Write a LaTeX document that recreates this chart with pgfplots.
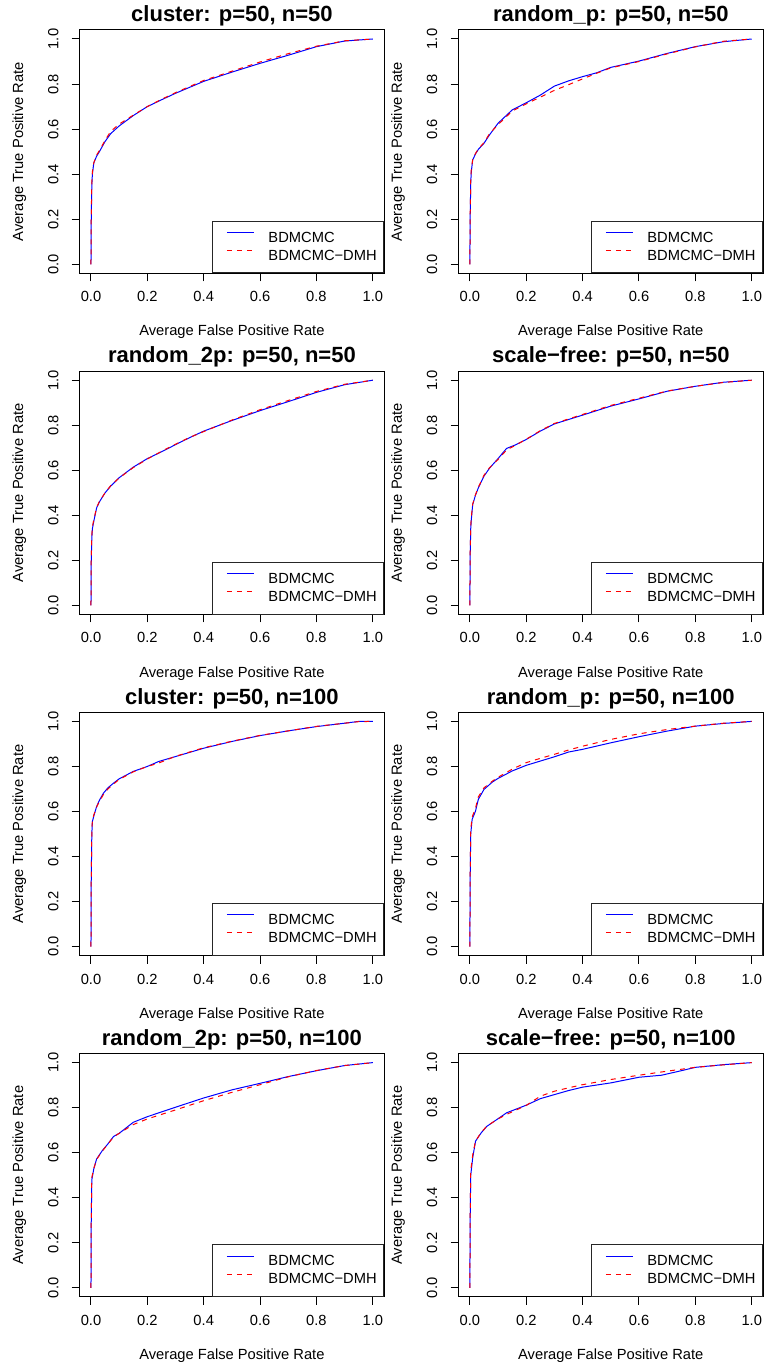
\documentclass[border=0pt]{standalone}
\usepackage{pgfplots}
\pgfplotsset{compat=1.18}
\usepackage{fontspec}
\setmainfont{Liberation Sans}
\newcommand\normfont{\fontsize{14.7}{17}\selectfont}
\newcommand\titlefont{\fontsize{22}{26}\selectfont\bfseries}
\pgfplotsset{
  rstyle/.style={
    scale only axis, width=304.4pt, height=243.3pt,
    xmin=-0.04, xmax=1.04, ymin=-0.04, ymax=1.04,
    xtick={0,0.2,0.4,0.6,0.8,1}, xticklabels={0.0,0.2,0.4,0.6,0.8,1.0},
    ytick={0,0.2,0.4,0.6,0.8,1}, yticklabels={0.0,0.2,0.4,0.6,0.8,1.0},
    tick align=outside, xtick pos=left, ytick pos=left,
    major tick length=8pt,
    tick style={black, line width=1pt},
    axis line style={black, line width=1pt},
    font=\normfont,
    xticklabel style={font=\normfont, anchor=base, inner sep=0pt},
    yticklabel style={font=\normfont, rotate=90, anchor=base, inner sep=0pt},
    xticklabel shift=20.4pt,
    yticklabel shift=13.4pt,
    title style={at={(axis description cs:0.5,1.034)}, anchor=base, yshift=-6pt, font=\titlefont, inner sep=0pt},
    xlabel={Average False Positive Rate},
    ylabel={Average True Positive Rate},
    xlabel style={at={(axis description cs:0.5,-0.257)}, anchor=base, inner sep=0pt, font=\normfont},
    ylabel style={at={(axis description cs:-0.186,0.5)}, anchor=base, inner sep=0pt, font=\normfont},
    legend style={at={(1,0)}, anchor=south east, draw=black!85, line width=0.8pt,
      inner xsep=7pt, inner ysep=11pt, row sep=6.2pt, font=\normfont,
      nodes={inner sep=0pt}},
    legend cell align=left,
    /tikz/every odd column/.style={column sep=14pt},
    legend image code/.code={\path (0pt,5.5pt); \draw[#1] (7pt,5.5pt) -- (34pt,5.5pt);},
  },
  bline/.style={blue, line width=1pt},
  rline/.style={red, line width=1pt, dash pattern=on 5pt off 5pt},
}
\newcommand{\rocpanel}[5]{%
\begin{axis}[rstyle, at={(#1,#2)}, anchor=south west, title={#3}]
\addplot[bline] coordinates {#4};
\addplot[rline] coordinates {#5};
\legend{BDMCMC,BDMCMC−DMH}
\end{axis}}
\begin{document}
\begin{tikzpicture}
\path[use as bounding box] (0,0) rectangle (767pt,1366pt);
% row 1
\rocpanel{79.7pt}{1092.7pt}{cluster: p=50, n=50}
{(0,0)(0.001,0.2)(0.003,0.35)(0.005,0.40)(0.01,0.45)(0.02,0.48)(0.03,0.50)(0.05,0.545)(0.07,0.58)(0.1,0.614)(0.15,0.66)(0.2,0.70)(0.25,0.73)(0.3,0.759)(0.4,0.812)(0.5,0.853)(0.6,0.892)(0.7,0.928)(0.8,0.966)(0.9,0.991)(1,1)}
{(0,0)(0.001,0.22)(0.003,0.36)(0.005,0.41)(0.01,0.45)(0.02,0.485)(0.03,0.505)(0.05,0.55)(0.07,0.59)(0.1,0.622)(0.15,0.662)(0.2,0.70)(0.25,0.732)(0.3,0.762)(0.4,0.816)(0.5,0.857)(0.6,0.898)(0.7,0.935)(0.8,0.968)(0.9,0.992)(1,1)}
\rocpanel{458.6pt}{1092.7pt}{random\_p: p=50, n=50}
{(0,0)(0.001,0.2)(0.003,0.36)(0.005,0.41)(0.01,0.463)(0.02,0.49)(0.03,0.51)(0.05,0.537)(0.07,0.575)(0.1,0.626)(0.15,0.685)(0.2,0.717)(0.25,0.751)(0.3,0.791)(0.35,0.814)(0.4,0.833)(0.45,0.85)(0.5,0.874)(0.6,0.902)(0.7,0.936)(0.8,0.966)(0.9,0.988)(1,1)}
{(0,0)(0.001,0.21)(0.003,0.37)(0.005,0.42)(0.01,0.465)(0.02,0.492)(0.03,0.512)(0.05,0.54)(0.07,0.58)(0.1,0.62)(0.15,0.68)(0.2,0.712)(0.25,0.742)(0.3,0.772)(0.35,0.797)(0.4,0.823)(0.45,0.848)(0.5,0.872)(0.6,0.9)(0.7,0.934)(0.8,0.965)(0.9,0.99)(1,1)}
% row 2
\rocpanel{79.7pt}{751.5pt}{random\_2p: p=50, n=50}
{(0,0)(0.001,0.2)(0.003,0.3)(0.005,0.34)(0.01,0.374)(0.02,0.433)(0.03,0.46)(0.05,0.50)(0.07,0.53)(0.1,0.567)(0.15,0.614)(0.2,0.652)(0.25,0.682)(0.3,0.714)(0.35,0.745)(0.4,0.774)(0.5,0.821)(0.6,0.865)(0.7,0.905)(0.8,0.946)(0.9,0.98)(1,1)}
{(0,0)(0.001,0.21)(0.003,0.31)(0.005,0.35)(0.01,0.38)(0.02,0.435)(0.03,0.462)(0.05,0.50)(0.07,0.532)(0.1,0.566)(0.15,0.612)(0.2,0.65)(0.25,0.684)(0.3,0.716)(0.35,0.746)(0.4,0.772)(0.5,0.823)(0.6,0.869)(0.7,0.91)(0.8,0.95)(0.9,0.982)(1,1)}
\rocpanel{458.6pt}{751.5pt}{scale−free: p=50, n=50}
{(0,0)(0.001,0.22)(0.003,0.34)(0.005,0.38)(0.01,0.448)(0.02,0.49)(0.03,0.522)(0.05,0.574)(0.07,0.61)(0.1,0.652)(0.13,0.697)(0.16,0.712)(0.2,0.737)(0.25,0.774)(0.3,0.806)(0.4,0.845)(0.5,0.885)(0.6,0.917)(0.7,0.951)(0.8,0.973)(0.9,0.991)(1,1)}
{(0,0)(0.001,0.23)(0.003,0.35)(0.005,0.39)(0.01,0.45)(0.02,0.492)(0.03,0.525)(0.05,0.578)(0.07,0.612)(0.1,0.648)(0.13,0.69)(0.16,0.71)(0.2,0.738)(0.25,0.776)(0.3,0.808)(0.4,0.848)(0.5,0.888)(0.6,0.92)(0.7,0.952)(0.8,0.973)(0.9,0.99)(1,1)}
% row 3
\rocpanel{79.7pt}{410.3pt}{cluster: p=50, n=100}
{(0,0)(0.001,0.3)(0.003,0.5)(0.005,0.555)(0.01,0.58)(0.02,0.622)(0.03,0.65)(0.044,0.681)(0.06,0.705)(0.08,0.726)(0.1,0.745)(0.15,0.778)(0.2,0.80)(0.24,0.822)(0.3,0.844)(0.4,0.881)(0.5,0.911)(0.6,0.937)(0.7,0.958)(0.8,0.977)(0.9,0.992)(0.95,1.0)(1,1)}
{(0,0)(0.001,0.3)(0.003,0.51)(0.005,0.56)(0.01,0.585)(0.02,0.62)(0.03,0.645)(0.044,0.675)(0.06,0.7)(0.08,0.722)(0.1,0.742)(0.15,0.776)(0.2,0.80)(0.24,0.815)(0.3,0.845)(0.4,0.883)(0.5,0.912)(0.6,0.938)(0.7,0.958)(0.8,0.978)(0.9,0.992)(0.95,0.999)(1,1)}
\rocpanel{458.6pt}{410.3pt}{random\_p: p=50, n=100}
{(0,0)(0.001,0.3)(0.003,0.5)(0.008,0.565)(0.02,0.602)(0.03,0.654)(0.05,0.698)(0.08,0.731)(0.1,0.747)(0.15,0.78)(0.2,0.805)(0.25,0.824)(0.3,0.843)(0.35,0.864)(0.4,0.876)(0.5,0.905)(0.6,0.932)(0.7,0.957)(0.8,0.979)(0.9,0.991)(1,1)}
{(0,0)(0.001,0.3)(0.003,0.52)(0.008,0.575)(0.02,0.615)(0.03,0.665)(0.05,0.705)(0.08,0.735)(0.1,0.752)(0.15,0.788)(0.2,0.817)(0.25,0.836)(0.3,0.854)(0.35,0.873)(0.4,0.89)(0.5,0.92)(0.6,0.945)(0.7,0.964)(0.8,0.979)(0.9,0.992)(1,1)}
% row 4
\rocpanel{79.7pt}{69.1pt}{random\_2p: p=50, n=100}
{(0,0)(0.001,0.3)(0.003,0.48)(0.01,0.528)(0.02,0.572)(0.04,0.609)(0.06,0.639)(0.08,0.672)(0.1,0.686)(0.15,0.735)(0.2,0.76)(0.3,0.802)(0.4,0.843)(0.5,0.879)(0.6,0.908)(0.7,0.938)(0.8,0.964)(0.9,0.987)(1,1)}
{(0,0)(0.001,0.3)(0.003,0.49)(0.01,0.53)(0.02,0.57)(0.04,0.607)(0.06,0.638)(0.08,0.67)(0.1,0.686)(0.15,0.725)(0.2,0.75)(0.3,0.79)(0.4,0.831)(0.5,0.868)(0.6,0.902)(0.7,0.937)(0.8,0.965)(0.9,0.987)(1,1)}
\rocpanel{458.6pt}{69.1pt}{scale−free: p=50, n=100}
{(0,0)(0.001,0.3)(0.003,0.5)(0.01,0.577)(0.02,0.651)(0.04,0.688)(0.06,0.717)(0.1,0.751)(0.13,0.777)(0.2,0.811)(0.25,0.84)(0.3,0.858)(0.35,0.876)(0.4,0.891)(0.5,0.91)(0.6,0.935)(0.68,0.944)(0.75,0.964)(0.8,0.979)(0.9,0.991)(1,1)}
{(0,0)(0.001,0.3)(0.003,0.52)(0.01,0.59)(0.02,0.652)(0.04,0.69)(0.06,0.718)(0.1,0.75)(0.13,0.77)(0.2,0.81)(0.25,0.851)(0.3,0.873)(0.35,0.888)(0.4,0.902)(0.5,0.925)(0.6,0.944)(0.7,0.962)(0.8,0.979)(0.9,0.99)(1,1)}
\end{tikzpicture}
\end{document}
